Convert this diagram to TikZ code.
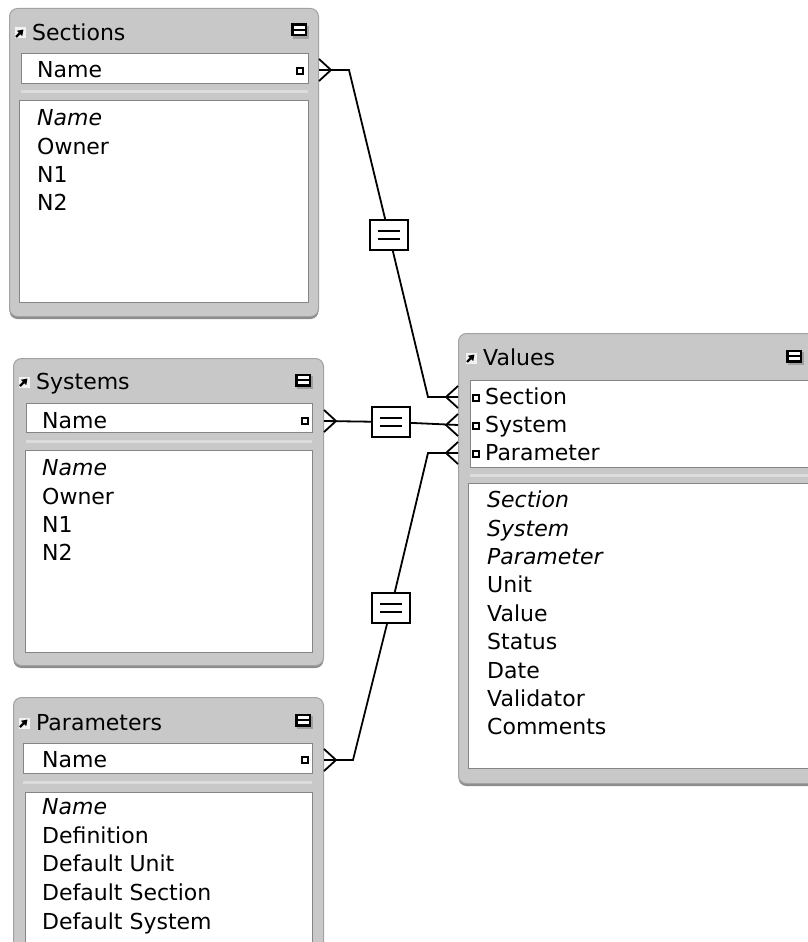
\documentclass[tikz,border=0pt]{standalone}
\usepackage{fontspec}
\setmainfont{DejaVu Sans}
\usetikzlibrary{positioning, arrows.meta, shadows}
\definecolor{tbFrame}{HTML}{C8C8C8}
\definecolor{tbEdge}{HTML}{A2A2A2}
\definecolor{tbPanel}{HTML}{858585}
\definecolor{tbShadow}{HTML}{8C8C8C}
\definecolor{tbIcon}{HTML}{F2F2F2}
\definecolor{tbBand}{HTML}{DCDCDC}

\tikzset{
  tabicon/.pic={
    \fill[tbIcon] (-5.5,-5.5) rectangle (5.5,5.5);
    \draw[line width=2.2pt, -{Triangle[length=5.5pt,width=7pt]}] (-4,4) -- (3.5,-3.5);
  },
  collapse/.pic={
    \fill[gray!75] (-6,-4) rectangle (10,9);
    \fill[black] (-8,-6.5) rectangle (8,6.5);
    \fill[white] (-5.5,-4) rectangle (5.5,4);
    \fill[black] (-5.5,-1.1) rectangle (5.5,1.1);
  },
  keymark/.pic={
    \draw[line width=1.4pt, fill=white] (-3,-3) rectangle (3,3);
  },
  crowfoot/.pic={
    \draw[line width=1.8pt] (0,-11) -- (12,0) -- (0,11);
  },
}

\begin{document}
\begin{tikzpicture}[
    x=1pt, y=-1pt,
    tframe/.style={draw=tbEdge, fill=tbFrame, line width=1pt, rounded corners=8pt,
                   anchor=north west, inner sep=0pt,
                   drop shadow={shadow xshift=0pt, shadow yshift=-2.5pt, fill=tbShadow, opacity=1}},
    panel/.style={draw=tbPanel, fill=white, line width=1.3pt, anchor=north west, inner sep=0pt},
    band/.style={fill=tbBand, draw=none, anchor=west, inner sep=0pt, minimum height=3pt},
    ttitle/.style={font=\fontsize{22}{26}\selectfont, anchor=west, inner sep=0pt,
                   text height=15.5pt, text depth=0pt},
    field/.style={ttitle},
    rel/.style={line width=1.8pt},
    eqbox/.style={draw, fill=white, line width=1.6pt, minimum width=38pt, minimum height=30pt,
                  inner sep=0pt,
                  path picture={\draw[line width=2pt]
                    ([xshift=-11pt,yshift=4pt]path picture bounding box.center) -- ++(22pt,0pt)
                    ([xshift=-11pt,yshift=-4pt]path picture bounding box.center) -- ++(22pt,0pt);}},
]
\useasboundingbox (0,0) rectangle (807,942);

% ---- Sections ----
\node[tframe, minimum width=309pt, minimum height=308pt] (secFrame) at (9,8) {};
\pic at (20,33) {tabicon};
\node[ttitle] (secTitle) at (32,33) {Sections};
\pic at (299,30) {collapse};
\node[panel, minimum width=287pt, minimum height=30pt] (secKey) at (21,53) {};
\node[field] (secKeyName) at (37,70) {Name};
\pic at (300,71) {keymark};
\node[band, minimum width=287pt] (secBand) at (21,91) {};
\node[panel, minimum width=289pt, minimum height=202pt] (secFields) at (19,100) {};
\foreach \f [count=\i from 0] in {\textit{Name}, Owner, N1, N2}
  \node[field, name=secF\i] at (37, 118+28.4*\i) {\f};

% ---- Systems ----
\node[tframe, minimum width=310pt, minimum height=307pt] (sysFrame) at (13,358) {};
\pic at (24,382) {tabicon};
\node[ttitle] (sysTitle) at (36,382) {Systems};
\pic at (303,380) {collapse};
\node[panel, minimum width=286pt, minimum height=29pt] (sysKey) at (26,403) {};
\node[field] (sysKeyName) at (42,421) {Name};
\pic at (305,421) {keymark};
\node[band, minimum width=286pt] (sysBand) at (26,441) {};
\node[panel, minimum width=287pt, minimum height=202pt] (sysFields) at (25,450) {};
\foreach \f [count=\i from 0] in {\textit{Name}, Owner, N1, N2}
  \node[field, name=sysF\i] at (42, 468+28.4*\i) {\f};

% ---- Parameters ----
\node[tframe, minimum width=310pt, minimum height=270pt] (parFrame) at (13,697) {};
\pic at (24,723) {tabicon};
\node[ttitle] (parTitle) at (36,723) {Parameters};
\pic at (303,720) {collapse};
\node[panel, minimum width=289pt, minimum height=30pt] (parKey) at (23,743) {};
\node[field] (parKeyName) at (42,760) {Name};
\pic at (305,760) {keymark};
\node[band, minimum width=289pt] (parBand) at (23,782) {};
\node[panel, minimum width=287pt, minimum height=170pt] (parFields) at (25,792) {};
\foreach \f [count=\i from 0] in {\textit{Name}, Definition, Default Unit, Default Section, Default System}
  \node[field, name=parF\i] at (42, 807+28.6*\i) {\f};

% ---- Values ----
\node[tframe, minimum width=360pt, minimum height=450pt] (valFrame) at (458,333) {};
\pic at (471,358) {tabicon};
\node[ttitle] (valTitle) at (483,358) {Values};
\pic at (794,356) {collapse};
\node[panel, minimum width=340pt, minimum height=87pt] (valKey) at (470,380) {};
\node[field] (valSecName) at (485,397) {Section};
\node[field] (valSysName) at (485,425) {System};
\node[field] (valParName) at (485,453) {Parameter};
\foreach \y in {397,425,453}
  \pic at (476,\y+1) {keymark};
\node[band, minimum width=340pt] (valBand) at (470,475) {};
\node[panel, minimum width=342pt, minimum height=285pt] (valFields) at (468,483) {};
\foreach \f [count=\i from 0] in {\textit{Section}, \textit{System}, \textit{Parameter},
                                  Unit, Value, Status, Date, Validator, Comments}
  \node[field, name=valF\i] at (487, 500+28.4*\i) {\f};

% ---- Relationships ----
\node[eqbox] (eqSec) at (389,235) {};
\node[eqbox] (eqSys) at (391,422) {};
\node[eqbox] (eqPar) at (391,608) {};

\coordinate (secOut) at (secFrame.east |- secKeyName);
\coordinate (sysOut) at (sysFrame.east |- sysKeyName);
\coordinate (parOut) at (parFrame.east |- parKeyName);
\coordinate (valSecIn) at (valFrame.west |- valSecName);
\coordinate (valSysIn) at (valFrame.west |- valSysName);
\coordinate (valParIn) at (valFrame.west |- valParName);
\coordinate (valSecBend) at ([xshift=-30pt]valSecIn);
\coordinate (valParBend) at ([xshift=-30pt]valParIn);

\draw[rel] (secOut) -- ++(30,0) -- (eqSec) -- (valSecBend) -- (valSecIn);
\draw[rel] (sysOut) -- (eqSys) -- (valSysIn);
\draw[rel] (parOut) -- ++(29,0) -- (eqPar) -- (valParBend) -- (valParIn);

\foreach \c in {secOut, sysOut, parOut}
  \pic at (\c) {crowfoot};
\foreach \c in {valSecIn, valSysIn, valParIn}
  \pic[rotate=180] at (\c) {crowfoot};

\end{tikzpicture}
\end{document}
